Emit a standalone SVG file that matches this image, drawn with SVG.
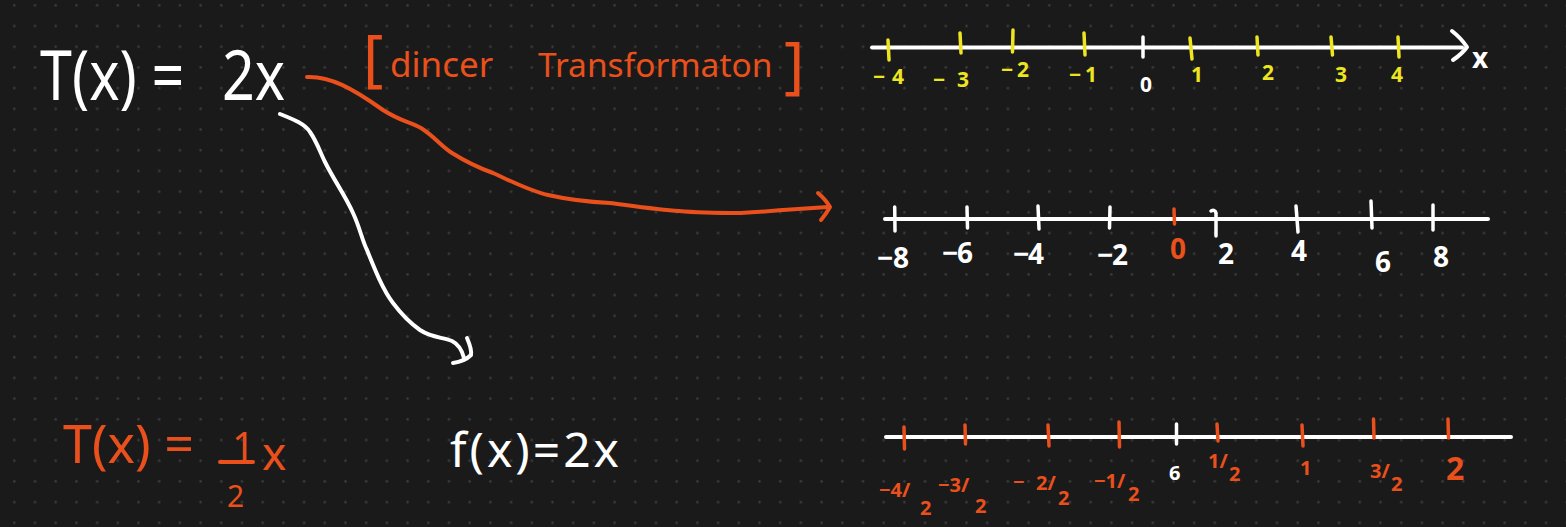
<svg xmlns="http://www.w3.org/2000/svg" width="1566" height="527" viewBox="0 0 1566 527">
  <defs>
    <pattern id="dots" patternUnits="userSpaceOnUse" x="0" y="0" width="20.7" height="20.7">
      <circle cx="14.3" cy="5.3" r="1.25" fill="#3b3b3b"/>
    </pattern>
  </defs>
  <style>
    .hand{font-family:"Noto Sans","DejaVu Sans",sans-serif}
    .w{fill:#ffffff}
    .o{fill:#e9501c}
    .y{fill:#ede51f}
    .b{font-weight:bold}
    .sw{stroke:#ffffff;fill:none;stroke-width:4;stroke-linecap:round;stroke-linejoin:round}
    .so{stroke:#e9501c;fill:none;stroke-width:4;stroke-linecap:round;stroke-linejoin:round}
    .sy{stroke:#ede51f;fill:none;stroke-width:3.5;stroke-linecap:round}
    .tk{stroke-width:3.5}
    .ny{font-size:21px}
    .nm{font-size:28px}
    .nb{font-size:20px}
  </style>
  <rect width="1566" height="527" fill="#1a1a1a"/>
  <rect width="1566" height="527" fill="url(#dots)"/>

  <g id="formula-top" class="hand w">
    <text transform="translate(40 100) scale(0.82 1)" font-size="70"><tspan x="0" y="0">T(x) = </tspan><tspan x="222" y="0">2x</tspan></text>
  </g>

  <g id="label-linear" class="hand o">
    <text><tspan x="363" y="79" font-size="62">[</tspan><tspan x="390" y="77" font-size="35">dincer </tspan><tspan x="538" y="77" font-size="33.5">Transformaton</tspan><tspan x="784" y="86" font-size="62">]</tspan></text>
  </g>

  <g id="connectors">
    <path class="so" d="M307,77 C330,76 352,88 383,110 C400,121 410,122 421,128 C435,137 441,146 452,153 C468,163 479,168 493,173 C515,183 530,191 548,195 C570,200 590,202 610,203 C640,207 660,210 679,211 C700,213 720,213 741,213 C760,212 770,211 783,210 L828,207"/>
    <path class="so" d="M818,193 Q826,200 830,207 Q826,214 821,220"/>
    <path class="sw" d="M280,114 C295,120 305,124 310,132 C317,142 320,152 325,162 C335,182 345,195 353,213 C360,228 362,240 367,250 C375,270 383,290 393,303 C402,315 410,323 420,330 C432,338 442,337 452,341 C458,344 462,350 464,358"/>
    <path class="sw" d="M467,338 C470,345 472,350 471,355 C466,360 460,362 453,363"/>
  </g>

  <g id="numberline-top">
    <path class="sw" d="M872,47.5 H1462"/>
    <path class="sw" d="M1452,31 Q1461,38 1467,47 Q1462,54 1453,60"/>
    <g class="sy">
      <path d="M888,40 L889,60"/>
      <path d="M960,33 L961,53"/>
      <path d="M1013,30 L1012.5,52"/>
      <path d="M1084,33 L1085,55"/>
      <path d="M1190,38 L1192,59"/>
      <path d="M1257,37 L1258,55"/>
      <path d="M1331,37 L1332.5,55"/>
      <path d="M1398,37 L1399,57"/>
    </g>
    <path class="sw tk" d="M1143,37 L1143,57"/>
    <g class="hand y b ny">
      <text y="84"><tspan x="873">−</tspan><tspan x="892">4</tspan></text>
      <text y="87"><tspan x="933">−</tspan><tspan x="957">3</tspan></text>
      <text y="77"><tspan x="1001">−</tspan><tspan x="1017">2</tspan></text>
      <text y="82"><tspan x="1069">−</tspan><tspan x="1085">1</tspan></text>
      <text x="1191" y="82">1</text>
      <text x="1262" y="80">2</text>
      <text x="1335" y="82">3</text>
      <text x="1391" y="82">4</text>
    </g>
    <text class="hand w b ny" x="1140" y="92">0</text>
    <text class="hand w b" x="1472" y="68" font-size="28">x</text>
  </g>

  <g id="numberline-middle">
    <path class="sw" d="M885,219 H1488"/>
    <g class="sw tk">
      <path d="M894.7,207 L895,231"/>
      <path d="M967,207 L967.5,228"/>
      <path d="M1038,206 L1039,229"/>
      <path d="M1110,207 L1109.5,228"/>
      <path d="M1211,211 Q1215,209 1216,213 L1216,236"/>
      <path d="M1296,206 L1298,232"/>
      <path d="M1371,201 L1372,228"/>
      <path d="M1433,205 L1433,230"/>
    </g>
    <path class="so tk" d="M1174,209 L1174.5,224"/>
    <g class="hand w b nm">
      <text y="268"><tspan x="877">−</tspan><tspan x="893">8</tspan></text>
      <text y="263"><tspan x="942">−</tspan><tspan x="957">6</tspan></text>
      <text y="264"><tspan x="1013">−</tspan><tspan x="1028">4</tspan></text>
      <text y="265"><tspan x="1097">−</tspan><tspan x="1112">2</tspan></text>
      <text x="1218" y="264">2</text>
      <text x="1291" y="261">4</text>
      <text x="1375" y="272">6</text>
      <text x="1433" y="267">8</text>
    </g>
    <text class="hand o b nm" x="1170" y="259">0</text>
  </g>

  <g id="numberline-bottom">
    <path class="sw" d="M886,437 H1511"/>
    <g class="so tk">
      <path d="M904,427 L904.5,449"/>
      <path d="M965,425 L965.5,444"/>
      <path d="M1048,425 L1049,446"/>
      <path d="M1119,422 L1119.5,447"/>
      <path d="M1217,424 L1218,441"/>
      <path d="M1302,425 L1303,446"/>
      <path d="M1373.5,419 L1374,438"/>
      <path d="M1448,419 L1448.5,438"/>
    </g>
    <path class="sw tk" d="M1176.5,424 L1176.5,444"/>
    <g class="hand o b nb">
      <text><tspan x="879" y="497">−4/</tspan><tspan x="920" y="515">2</tspan></text>
      <text><tspan x="938" y="492">−3/</tspan><tspan x="975" y="513">2</tspan></text>
      <text><tspan x="1013" y="489">−</tspan><tspan x="1036" y="490">2/</tspan><tspan x="1058" y="505">2</tspan></text>
      <text><tspan x="1094" y="488">−1/</tspan><tspan x="1128" y="501">2</tspan></text>
      <text><tspan x="1208" y="468">1/</tspan><tspan x="1229" y="481">2</tspan></text>
      <text x="1300" y="475">1</text>
      <text><tspan x="1370" y="478">3/</tspan><tspan x="1391" y="491">2</tspan></text>
      <text x="1446" y="480" font-size="32px">2</text>
    </g>
    <text class="hand w b nb" x="1169" y="480">6</text>
  </g>

  <g id="formula-bottom-left" class="hand o">
    <text><tspan x="63" y="463" font-size="52">T(x) = </tspan><tspan x="232" y="461" font-size="40">1</tspan><tspan x="227" y="507" font-size="30">2</tspan><tspan x="262" y="470" font-size="46">x</tspan></text>
    <path class="so" d="M220,462 L253,462"/>
  </g>

  <g id="formula-f" class="hand w">
    <text x="450" y="467" font-size="48" letter-spacing="3">f(x)=2x</text>
  </g>
</svg>
